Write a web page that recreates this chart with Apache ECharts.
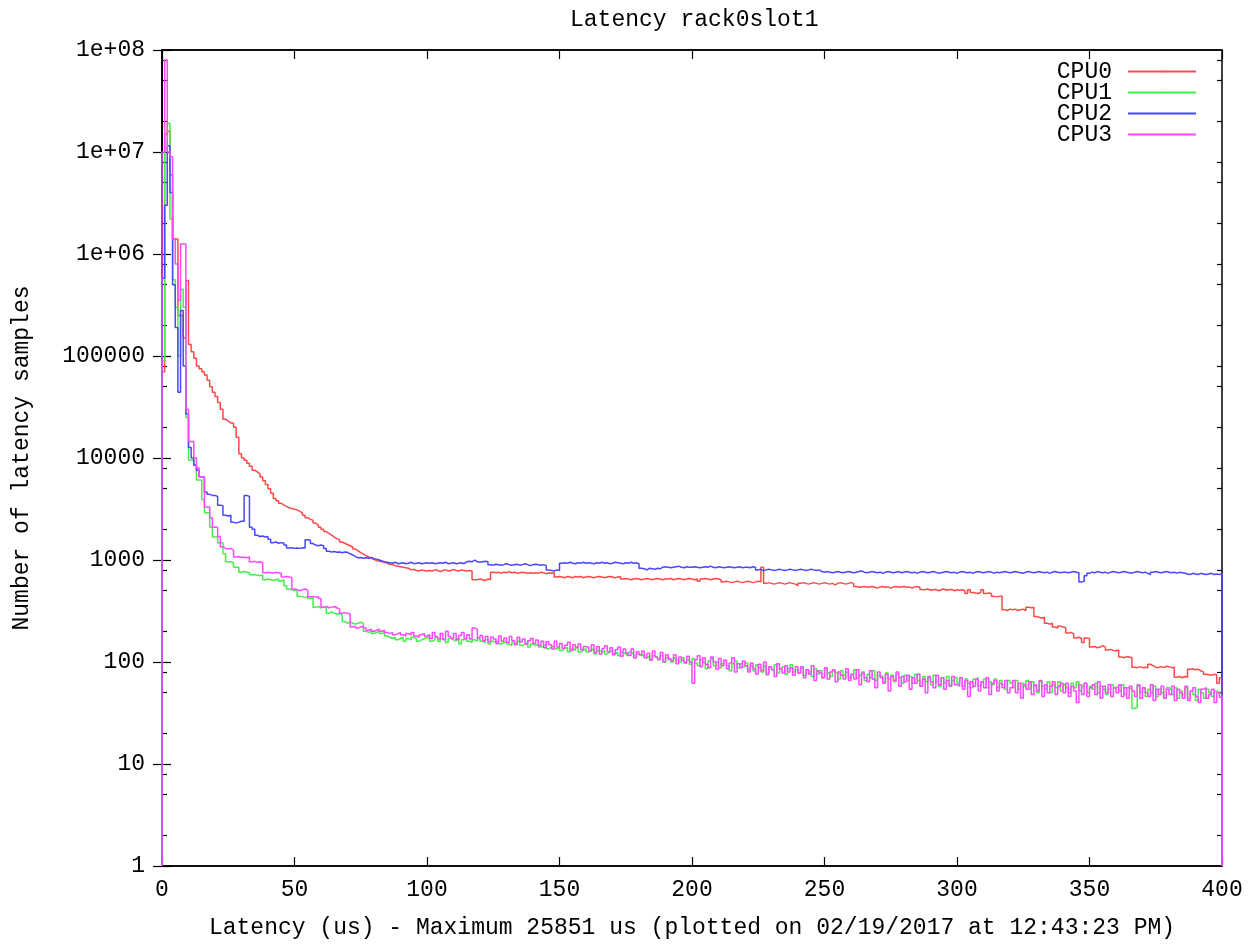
<!DOCTYPE html>
<html>
<head>
<meta charset="utf-8">
<title>Latency rack0slot1</title>
<script src="https://cdn.jsdelivr.net/npm/echarts@6/dist/echarts.min.js"></script>
<style>
  html, body { margin: 0; padding: 0; background: #fff; }
  #latency { width: 1253px; height: 944px; }
</style>
</head>
<body>
<div id="latency"></div>
<script>
// number of samples per 1 us latency bin, bins 0..399
const cpu0 = [
  70000, 15000000, 16000000, 6000000, 1400000, 1400000, 250000, 250000, 150000, 550000, 130000, 110000, 95000, 80000, 75000, 70000, 65000, 58000, 50000, 44000,
  40000, 35000, 30000, 24000, 23000, 22000, 22000, 20000, 16000, 11000, 10000, 9500, 8900, 8300, 7600, 7300, 7000, 6500, 6000, 5500,
  5000, 4500, 4000, 3800, 3600, 3450, 3350, 3250, 3200, 3150, 3100, 3000, 2900, 2750, 2600, 2500, 2450, 2300, 2200, 2100,
  2000, 1900, 1820, 1750, 1680, 1620, 1580, 1500, 1460, 1420, 1380, 1340, 1280, 1230, 1180, 1140, 1100, 1070, 1040, 1010,
  990, 970, 960, 950, 930, 910, 900, 880, 870, 860, 850, 840, 830, 800, 810, 790, 780, 800, 790, 780,
  790, 780, 800, 790, 770, 790, 800, 780, 790, 810, 790, 780, 800, 790, 780, 790, 780, 640, 640, 650,
  640, 630, 650, 640, 760, 750, 760, 740, 760, 750, 770, 750, 760, 740, 750, 760, 750, 740, 750, 740,
  750, 740, 760, 750, 730, 750, 740, 750, 680, 690, 680, 670, 690, 680, 670, 690, 680, 690, 670, 680,
  690, 680, 670, 680, 690, 680, 670, 680, 690, 680, 670, 680, 690, 650, 660, 650, 640, 650, 660, 650,
  640, 650, 660, 650, 640, 650, 660, 650, 640, 650, 650, 660, 640, 650, 660, 650, 640, 650, 660, 650,
  640, 650, 620, 650, 660, 650, 640, 650, 660, 650, 640, 610, 620, 610, 600, 610, 620, 610, 600, 610,
  620, 610, 600, 610, 620, 610, 850, 590, 600, 590, 580, 590, 600, 590, 580, 590, 600, 590, 580, 560,
  590, 600, 590, 580, 590, 600, 590, 580, 590, 600, 590, 580, 590, 570, 590, 600, 590, 580, 590, 600,
  590, 550, 540, 545, 550, 540, 545, 550, 540, 530, 545, 550, 540, 545, 530, 545, 550, 540, 545, 550,
  540, 545, 530, 545, 550, 540, 515, 510, 520, 505, 510, 515, 500, 510, 520, 505, 510, 515, 500, 510,
  505, 510, 500, 470, 510, 480, 475, 470, 480, 510, 470, 475, 470, 440, 435, 440, 440, 325, 320, 330,
  325, 330, 320, 325, 330, 320, 345, 340, 345, 280, 275, 270, 275, 240, 235, 240, 220, 215, 225, 220,
  218, 192, 195, 190, 172, 175, 170, 155, 172, 170, 140, 142, 138, 140, 145, 140, 131, 133, 130, 128,
  131, 112, 110, 113, 112, 110, 89, 88, 90, 88, 89, 88, 95, 92, 89, 88, 90, 88, 91, 90,
  88, 89, 71, 72, 70, 72, 71, 85, 86, 84, 85, 82, 80, 76, 75, 74, 76, 75, 62, 70
];
const cpu1 = [
  90000, 12000000, 19000000, 2200000, 560000, 300000, 100000, 450000, 300000, 25000, 9500, 9500, 8500, 6100, 6100, 3900, 2900, 2900, 2100, 1680,
  1680, 1480, 1480, 1150, 960, 960, 940, 850, 850, 760, 770, 760, 750, 715, 720, 710, 700, 715, 640, 650,
  640, 630, 640, 650, 620, 640, 560, 520, 510, 500, 510, 440, 435, 430, 440, 420, 435, 345, 350, 340,
  345, 340, 300, 310, 300, 295, 300, 290, 250, 240, 245, 240, 235, 240, 245, 240, 200, 195, 200, 190,
  195, 200, 190, 195, 180, 175, 170, 175, 165, 170, 175, 160, 170, 165, 175, 170, 160, 165, 170, 175,
  170, 160, 165, 175, 160, 170, 165, 155, 170, 165, 160, 170, 150, 165, 170, 160, 155, 165, 160, 170,
  160, 155, 165, 150, 160, 155, 160, 150, 155, 160, 150, 145, 155, 150, 160, 145, 150, 155, 140, 150,
  145, 150, 140, 145, 150, 135, 140, 145, 135, 140, 130, 135, 140, 125, 135, 130, 140, 125, 130, 135,
  125, 130, 135, 120, 130, 125, 130, 120, 125, 130, 120, 125, 115, 125, 120, 115, 125, 120, 110, 120,
  115, 120, 110, 115, 105, 115, 110, 105, 115, 100, 110, 105, 100, 110, 105, 100, 110, 100, 105, 95,
  108, 98, 92, 106, 100, 86, 102, 108, 92, 100, 88, 96, 104, 92, 82, 96, 102, 88, 96, 90,
  98, 84, 92, 82, 94, 88, 80, 92, 78, 90, 84, 94, 78, 86, 90, 76, 86, 94, 80, 84,
  78, 88, 74, 84, 80, 72, 86, 76, 82, 70, 86, 78, 72, 82, 78, 68, 82, 74, 80, 70,
  76, 84, 70, 74, 80, 66, 76, 70, 82, 66, 74, 72, 64, 78, 68, 74, 64, 76, 70, 62,
  74, 66, 72, 62, 76, 66, 58, 72, 64, 70, 60, 74, 64, 58, 70, 62, 72, 60, 66, 70,
  62, 70, 58, 68, 62, 56, 68, 70, 58, 64, 68, 56, 64, 60, 68, 56, 66, 60, 54, 66,
  62, 56, 66, 54, 62, 58, 66, 54, 64, 58, 50, 64, 58, 54, 64, 50, 60, 56, 64, 52,
  60, 56, 50, 62, 56, 64, 52, 58, 62, 50, 58, 54, 62, 50, 58, 54, 48, 54, 60, 56,
  58, 52, 60, 48, 56, 54, 35, 36, 58, 50, 56, 46, 54, 50, 58, 46, 54, 50, 44, 56,
  54, 48, 56, 44, 52, 48, 56, 44, 52, 48, 42, 54, 50, 44, 54, 50, 46, 52, 50, 48
];
const cpu2 = [
  580000, 3000000, 11500000, 4000000, 500000, 190000, 44000, 280000, 80000, 27000, 12700, 10000, 8500, 7600, 6500, 6500, 4650, 4400, 4300, 4300,
  4200, 3450, 3400, 2750, 2700, 2750, 2350, 2300, 2350, 2400, 2400, 4300, 4200, 2100, 2000, 1750, 1700, 1720, 1680, 1700,
  1600, 1480, 1500, 1460, 1480, 1470, 1400, 1310, 1320, 1300, 1310, 1300, 1320, 1310, 1580, 1560, 1450, 1400, 1380, 1400,
  1380, 1300, 1220, 1200, 1210, 1190, 1200, 1180, 1200, 1190, 1150, 1120, 1080, 1050, 1060, 1040, 1050, 1040, 1060, 1030,
  1020, 1000, 980, 960, 950, 940, 930, 950, 920, 930, 940, 920, 930, 950, 920, 930, 940, 920, 930, 940,
  930, 940, 920, 930, 940, 930, 950, 920, 930, 940, 920, 930, 940, 920, 960, 970, 960, 1000, 960, 950,
  960, 970, 960, 900, 890, 910, 900, 890, 900, 920, 900, 890, 900, 910, 890, 900, 920, 900, 880, 900,
  910, 900, 890, 900, 880, 800, 790, 780, 800, 790, 930, 940, 930, 950, 930, 920, 940, 930, 950, 930,
  940, 930, 920, 940, 930, 950, 930, 940, 920, 930, 950, 940, 930, 920, 940, 930, 950, 930, 940, 920,
  830, 820, 800, 830, 820, 810, 830, 820, 850, 860, 850, 840, 850, 860, 870, 850, 840, 860, 850, 850,
  860, 850, 840, 850, 860, 850, 870, 850, 840, 860, 850, 840, 850, 860, 850, 840, 850, 860, 840, 850,
  850, 840, 860, 850, 800, 810, 790, 800, 810, 800, 790, 800, 810, 800, 790, 800, 810, 800, 790, 800,
  810, 800, 790, 800, 810, 800, 790, 800, 770, 760, 770, 760, 750, 760, 770, 760, 750, 760, 770, 760,
  750, 760, 770, 780, 760, 750, 760, 770, 760, 750, 760, 740, 760, 770, 760, 750, 760, 770, 750, 760,
  770, 760, 750, 760, 740, 760, 770, 760, 750, 760, 770, 760, 740, 750, 760, 770, 760, 750, 760, 740,
  760, 770, 760, 750, 760, 740, 760, 770, 760, 750, 760, 770, 760, 740, 760, 750, 760, 770, 760, 750,
  760, 770, 760, 750, 740, 760, 770, 760, 750, 760, 770, 760, 750, 760, 740, 760, 770, 760, 750, 760,
  760, 750, 760, 770, 760, 750, 610, 620, 700, 740, 760, 750, 770, 760, 750, 760, 740, 760, 770, 760,
  750, 760, 770, 760, 750, 740, 760, 770, 760, 750, 760, 740, 720, 760, 770, 760, 750, 760, 770, 760,
  750, 760, 740, 760, 750, 740, 730, 720, 740, 730, 720, 740, 730, 720, 730, 740, 720, 730, 720, 730
];
const cpu3 = [
  10000000, 80000000, 10000000, 9000000, 1400000, 800000, 350000, 1250000, 1250000, 30000, 14500, 14500, 10000, 8000, 6500, 6500, 3300, 3300, 2600, 2100,
  2100, 1700, 1350, 1300, 1280, 1300, 1250, 1070, 1080, 1060, 1070, 1050, 1070, 960, 970, 950, 960, 940, 750, 760,
  750, 740, 760, 750, 740, 680, 690, 680, 670, 520, 510, 500, 510, 520, 505, 435, 440, 430, 440, 420,
  345, 350, 340, 345, 350, 340, 330, 300, 305, 300, 295, 220, 225, 215, 220, 225, 215, 205, 210, 200,
  205, 210, 200, 205, 195, 190, 195, 185, 190, 195, 185, 180, 190, 185, 195, 180, 175, 185, 190, 180,
  185, 170, 195, 178, 168, 190, 165, 200, 178, 170, 190, 165, 182, 195, 170, 185, 168, 215, 210, 172,
  182, 162, 178, 158, 176, 168, 152, 180, 160, 172, 155, 178, 162, 148, 175, 158, 168, 150, 162, 170,
  152, 164, 145, 160, 138, 158, 148, 134, 160, 140, 152, 136, 146, 156, 130, 148, 138, 150, 132, 142,
  140, 128, 148, 124, 142, 120, 136, 144, 126, 138, 118, 132, 140, 114, 134, 122, 116, 134, 110, 126,
  118, 128, 110, 122, 104, 128, 112, 106, 124, 100, 118, 108, 102, 118, 96, 112, 104, 98, 114, 100,
  62, 105, 115, 90, 110, 95, 88, 112, 100, 85, 108, 92, 104, 86, 98, 110, 80, 96, 88, 102,
  92, 80, 98, 86, 76, 95, 82, 100, 75, 90, 84, 72, 96, 86, 78, 92, 80, 88, 74, 90,
  78, 90, 70, 84, 76, 92, 66, 82, 78, 70, 88, 68, 80, 84, 64, 80, 74, 68, 86, 66,
  76, 68, 84, 60, 78, 70, 64, 82, 68, 56, 80, 70, 62, 76, 52, 72, 66, 80, 58, 72,
  64, 74, 54, 70, 62, 76, 58, 68, 50, 72, 64, 56, 74, 60, 70, 54, 66, 58, 72, 60,
  58, 70, 54, 66, 46, 64, 58, 68, 52, 64, 56, 70, 48, 62, 66, 52, 62, 56, 66, 50,
  56, 66, 50, 62, 44, 60, 54, 64, 48, 60, 52, 66, 46, 60, 50, 58, 64, 48, 58, 62,
  50, 62, 46, 58, 52, 40, 60, 48, 62, 46, 56, 60, 48, 64, 44, 58, 50, 60, 46, 56,
  50, 60, 46, 56, 44, 58, 52, 46, 60, 44, 56, 50, 46, 60, 42, 54, 48, 58, 44, 54,
  48, 58, 42, 54, 50, 44, 58, 42, 52, 56, 46, 40, 54, 56, 44, 48, 54, 40, 50, 45
];

const cpuNames = ["CPU0", "CPU1", "CPU2", "CPU3"];
const cpuColors = ["#ff4848", "#48ee48", "#4848ff", "#ff48ff"];
const yTickLabels = ["1", "10", "100", "1000", "10000", "100000", "1e+06", "1e+07", "1e+08"];
const minorSteps = [2, 5, 8];

const monoFont = "'Liberation Mono', 'DejaVu Sans Mono', monospace";

// gnuplot "steps": start at the bottom, end with a drop at 400 us
function toSteps(counts) {
  let pts = [[0, 1]];
  counts.forEach((v, i) => pts.push([i, v]));
  pts.push([counts.length, counts[counts.length - 1]]);
  pts.push([counts.length, 1]);
  return pts;
}

// minor tick positions (log10 space) for the helper axes
let minorTicks = [];
for (let d = 0; d < 8; d++) {
  minorSteps.forEach(m => minorTicks.push(d + Math.log10(m)));
}

let chart = echarts.init(document.getElementById("latency"));

let axisLine = { show: true, lineStyle: { color: "#000", width: 1.5 } };
let majorTick = { inside: true, length: 9, lineStyle: { color: "#000", width: 1.2 } };
let minorTick = { inside: true, length: 5, customValues: minorTicks, lineStyle: { color: "#000", width: 1.2 } };

let option = {
  animation: false,
  backgroundColor: "#fff",
  title: {
    text: "Latency rack0slot1",
    left: 565,
    top: 3,
    textStyle: { fontFamily: monoFont, fontSize: 23, fontWeight: "normal", color: "#000" }
  },
  legend: {
    orient: "vertical",
    right: 51,
    top: 55,
    align: "right",
    itemWidth: 68,
    itemHeight: 2,
    itemGap: -2,
    textStyle: {
      fontFamily: monoFont,
      fontSize: 23,
      color: "#000",
      lineHeight: 20,
      padding: [0, 11, 0, 0]
    },
    data: cpuNames
  },
  grid: {
    left: 162,
    right: 31,
    top: 50,
    bottom: 78,
    show: true,
    borderColor: "#000",
    borderWidth: 1.5
  },
  xAxis: [
    {
      type: "value",
      min: 0,
      max: 400,
      interval: 50,
      position: "bottom",
      name: "Latency (us) - Maximum 25851 us (plotted on 02/19/2017 at 12:43:23 PM)",
      nameLocation: "middle",
      nameGap: 50,
      nameTextStyle: { fontFamily: monoFont, fontSize: 23, color: "#000" },
      axisLine: { ...axisLine, onZero: false },
      axisTick: majorTick,
      axisLabel: { margin: 12, fontFamily: monoFont, fontSize: 23, color: "#000" },
      splitLine: { show: false }
    },
    {
      type: "value",
      min: 0,
      max: 400,
      interval: 50,
      position: "top",
      axisLine: { ...axisLine, onZero: false },
      axisTick: majorTick,
      axisLabel: { show: false },
      splitLine: { show: false }
    }
  ],
  yAxis: [
    {
      type: "log",
      logBase: 10,
      min: 1,
      max: 100000000,
      splitNumber: 8,
      position: "left",
      name: "Number of latency samples",
      nameLocation: "middle",
      nameRotate: 90,
      nameGap: 129,
      nameTextStyle: { fontFamily: monoFont, fontSize: 23, color: "#000" },
      axisLine: axisLine,
      axisTick: majorTick,
      axisLabel: {
        margin: 17,
        fontFamily: monoFont,
        fontSize: 23,
        color: "#000",
        formatter: v => yTickLabels[Math.round(Math.log10(v))]
      },
      splitLine: { show: false }
    },
    {
      type: "log",
      logBase: 10,
      min: 1,
      max: 100000000,
      splitNumber: 8,
      position: "right",
      axisLine: axisLine,
      axisTick: majorTick,
      axisLabel: { show: false },
      splitLine: { show: false }
    },
    {
      // minor ticks, left
      type: "value",
      min: 0,
      max: 8,
      position: "left",
      axisLine: { show: false },
      axisTick: minorTick,
      axisLabel: { show: false },
      splitLine: { show: false }
    },
    {
      // minor ticks, right
      type: "value",
      min: 0,
      max: 8,
      position: "right",
      axisLine: { show: false },
      axisTick: minorTick,
      axisLabel: { show: false },
      splitLine: { show: false }
    }
  ],
  series: [cpu0, cpu1, cpu2, cpu3].map((counts, i) => ({
    name: cpuNames[i],
    type: "line",
    step: "end",
    symbol: "none",
    xAxisIndex: 0,
    yAxisIndex: 0,
    data: toSteps(counts),
    color: cpuColors[i],
    lineStyle: { color: cpuColors[i], width: 1.5 }
  }))
};

chart.setOption(option);
</script>
</body>
</html>
